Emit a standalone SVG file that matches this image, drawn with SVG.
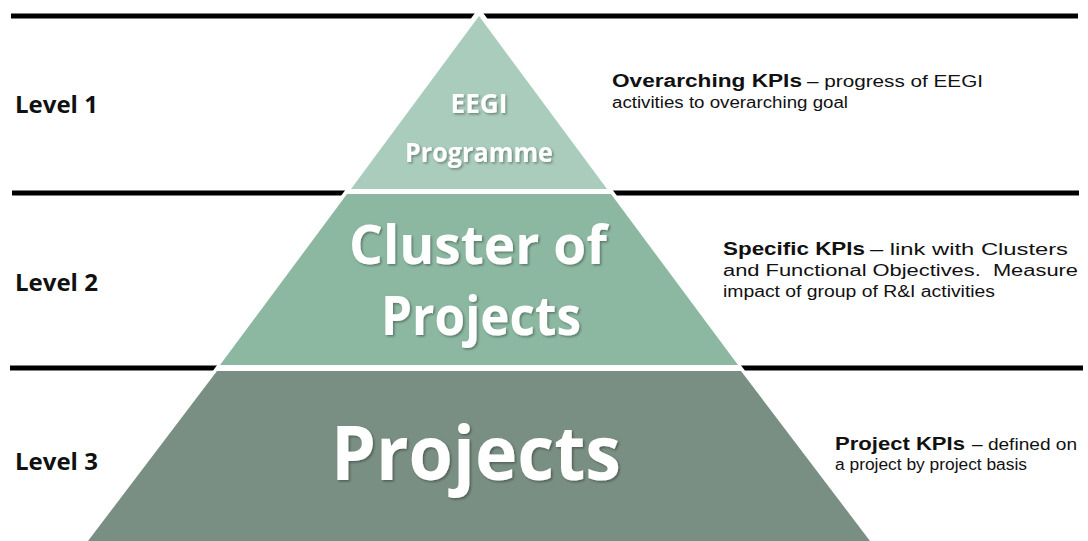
<svg xmlns="http://www.w3.org/2000/svg" width="1088" height="541" viewBox="0 0 1088 541">
  <defs>
    <filter id="txtShadow" x="-10%" y="-20%" width="120%" height="150%">
      <feDropShadow dx="1.5" dy="1.5" stdDeviation="1.2" flood-color="#000" flood-opacity="0.35"/>
    </filter>
    <style>
      .rule { stroke: #000; stroke-width: 5; fill: none; }
      .lvl { font-family: "Open Sans", "Liberation Sans", sans-serif; font-weight: 700; font-size: 24px; fill: #111; }
      .tier-label { font-family: "Open Sans", "Liberation Sans", sans-serif; font-weight: 700; fill: #fff; text-anchor: middle; filter: url(#txtShadow); }
      .kpi-b { font-family: "Liberation Sans", Arial, sans-serif; font-weight: 700; font-size: 18px; fill: #111; }
      .kpi { font-family: "Liberation Sans", Arial, sans-serif; font-size: 16px; fill: #111; }
    </style>
  </defs>

  <rect width="1088" height="541" fill="#fff"/>

  <!-- horizontal level separators -->
  <g id="connectors">
    <line class="rule" x1="11" y1="16" x2="1078" y2="16"/>
    <line class="rule" x1="12" y1="193" x2="1079" y2="193"/>
    <line class="rule" x1="10" y1="368" x2="1083" y2="368"/>
  </g>

  <!-- white halo separating the pyramid from the rules -->
  <polygon points="479,15 867,545 91,545" fill="#fff" stroke="#fff" stroke-width="9" stroke-linejoin="miter"/>

  <g id="tier1">
    <polygon points="479,16 607,189 351,189" fill="#a9ccbc"/>
    <text class="tier-label" x="479" y="113" font-size="26" textLength="57" lengthAdjust="spacingAndGlyphs">EEGI</text>
    <text class="tier-label" x="479" y="162" font-size="26" textLength="148" lengthAdjust="spacingAndGlyphs">Programme</text>
  </g>

  <g id="tier2">
    <polygon points="347,194 611,194 738,365 220,365" fill="#8cb8a1"/>
    <text class="tier-label" x="478" y="264" font-size="53" textLength="258" lengthAdjust="spacingAndGlyphs">Cluster of</text>
    <text class="tier-label" x="481" y="335" font-size="53" textLength="200" lengthAdjust="spacingAndGlyphs">Projects</text>
  </g>

  <g id="tier3">
    <polygon points="217,371 741,371 870,541 88,541" fill="#7a8f83"/>
    <text class="tier-label" x="476" y="480" font-size="76" textLength="290" lengthAdjust="spacingAndGlyphs">Projects</text>
  </g>

  <g id="level1">
    <text class="lvl" x="15" y="113">Level 1</text>
  </g>
  <g id="level2">
    <text class="lvl" x="15" y="291">Level 2</text>
  </g>
  <g id="level3">
    <text class="lvl" x="15" y="470">Level 3</text>
  </g>

  <g id="kpi1">
    <text class="kpi-b" x="612" y="87" textLength="190" lengthAdjust="spacingAndGlyphs">Overarching KPIs</text>
    <text class="kpi" x="807" y="87" textLength="176" lengthAdjust="spacingAndGlyphs">– progress of EEGI</text>
    <text class="kpi" x="612" y="108" textLength="236" lengthAdjust="spacingAndGlyphs">activities to overarching goal</text>
  </g>

  <g id="kpi2">
    <text class="kpi-b" x="723" y="255" textLength="142" lengthAdjust="spacingAndGlyphs">Specific KPIs</text>
    <text class="kpi" x="870" y="255" textLength="198" lengthAdjust="spacingAndGlyphs">– link with Clusters</text>
    <text class="kpi" x="723" y="276" textLength="355" lengthAdjust="spacingAndGlyphs" xml:space="preserve">and Functional Objectives.  Measure</text>
    <text class="kpi" x="723" y="297" textLength="272" lengthAdjust="spacingAndGlyphs">impact of group of R&amp;I activities</text>
  </g>

  <g id="kpi3">
    <text class="kpi-b" x="835" y="450" textLength="130" lengthAdjust="spacingAndGlyphs">Project KPIs</text>
    <text class="kpi" x="972" y="450" textLength="105" lengthAdjust="spacingAndGlyphs">– defined on</text>
    <text class="kpi" x="835" y="470" textLength="192" lengthAdjust="spacingAndGlyphs">a project by project basis</text>
  </g>
</svg>
